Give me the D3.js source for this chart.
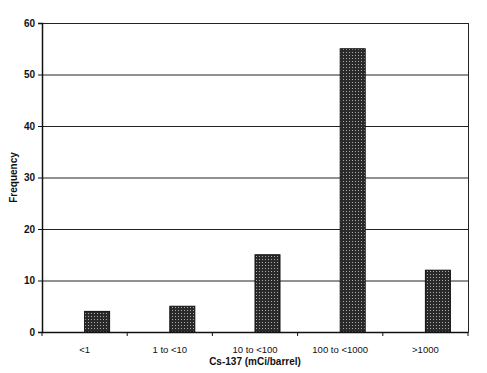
<!DOCTYPE html>
<html lang="en">
<head>
	<meta charset="utf-8">
	<title>Cs-137 Frequency</title>
	<script src="https://d3js.org/d3.v7.min.js"></script>
	<style>
	body { margin: 0; background: #fff; }
	text { font-family: "Liberation Sans", Arial, sans-serif; fill: #111; }
	.tick-label { font-size: 9.5px; }
	.ytick-label { font-size: 10px; font-weight: bold; }
	.title { font-size: 10px; font-weight: bold; }
	.grid line { stroke: #222; stroke-width: 1px; }
	</style>
</head>
<body>
	<script>
		// data
		var categories = ["<1", "1 to <10", "10 to <100", "100 to <1000", ">1000"];
		var frequency = [4, 5, 15, 55, 12];
		var yTicks = [0, 10, 20, 30, 40, 50, 60];

		var w = 487, h = 373;
		var plotL = 42, plotR = 468, plotT = 23, plotB = 332;

		var svg = d3.select("body").append("svg")
			.attr("width", w)
			.attr("height", h);

		// dotted dark fill like the scanned bars
		var pat = svg.append("defs").append("pattern")
			.attr("id", "hatch")
			.attr("width", 3).attr("height", 3)
			.attr("patternUnits", "userSpaceOnUse");
		pat.append("rect").attr("width", 3).attr("height", 3).attr("fill", "#2a2a2a");
		pat.append("rect").attr("x", 1).attr("y", 1).attr("width", 1).attr("height", 1).attr("fill", "#aaa");

		var x = d3.scaleBand()
			.domain(categories)
			.range([plotL, plotR]);

		var y = d3.scaleLinear()
			.domain([0, 60])
			.range([plotB, plotT]);

		// gridlines
		svg.append("g")
			.attr("class", "grid")
			.selectAll("line")
			.data(yTicks.filter(function(d) { return d > 0; }))
			.enter().append("line")
			.attr("x1", plotL).attr("x2", plotR)
			.attr("y1", function(d) { return y(d) + 0.5; })
			.attr("y2", function(d) { return y(d) + 0.5; });

		// right frame
		svg.append("line")
			.attr("x1", plotR + 0.5).attr("x2", plotR + 0.5)
			.attr("y1", plotT).attr("y2", plotB)
			.attr("stroke", "#222");

		// bars: start at band centre, like an Excel chart with an empty second series
		var barW = 25;
		svg.append("g")
			.selectAll("rect")
			.data(frequency)
			.enter().append("rect")
			.attr("x", function(d, i) { return x(categories[i]) + x.bandwidth() / 2; })
			.attr("y", function(d) { return y(d); })
			.attr("width", barW)
			.attr("height", function(d) { return plotB - y(d); })
			.attr("fill", "url(#hatch)")
			.attr("stroke", "#111")
			.attr("stroke-width", 1);

		// y axis
		var yAxis = svg.append("g")
			.attr("transform", "translate(" + plotL + ",0)")
			.call(d3.axisLeft(y).tickValues(yTicks).tickSize(4).tickPadding(3));
		yAxis.select(".domain").attr("stroke", "#111").attr("stroke-width", 1.5);
		yAxis.selectAll(".tick line").attr("stroke", "#111");
		yAxis.selectAll("text").attr("class", "ytick-label");
		yAxis.attr("font-family", null).attr("font-size", null);

		// x axis
		var xAxis = svg.append("g")
			.attr("transform", "translate(0," + plotB + ")")
			.call(d3.axisBottom(x).tickSize(0).tickPadding(14));
		xAxis.select(".domain").attr("stroke", "#111").attr("stroke-width", 1.5);
		xAxis.selectAll("text").attr("class", "tick-label");
		xAxis.attr("font-family", null).attr("font-size", null);

		// tick marks at band edges
		var edges = categories.map(function(c) { return x(c); }).concat([plotR]);
		xAxis.selectAll(".edge")
			.data(edges)
			.enter().append("line")
			.attr("class", "edge")
			.attr("x1", function(d) { return d; }).attr("x2", function(d) { return d; })
			.attr("y1", 0).attr("y2", 4)
			.attr("stroke", "#111");

		// axis titles
		svg.append("text")
			.attr("class", "title")
			.attr("x", (plotL + plotR) / 2)
			.attr("y", 365)
			.attr("text-anchor", "middle")
			.text("Cs-137 (mCi/barrel)");

		svg.append("text")
			.attr("class", "title")
			.attr("transform", "translate(17," + (plotT + plotB) / 2 + ") rotate(-90)")
			.attr("text-anchor", "middle")
			.text("Frequency");
	</script>
</body>
</html>
